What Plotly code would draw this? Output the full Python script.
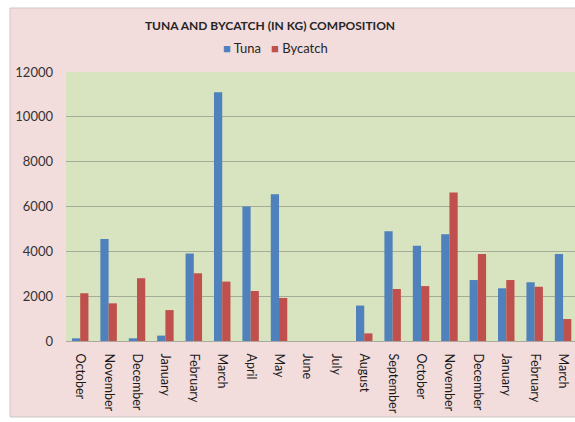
import plotly.graph_objects as go

# Monthly catch composition (kg)
months = ["October", "November", "December", "January", "February", "March",
          "April", "May", "June", "July", "August", "September", "October ",
          "November ", "December ", "January ", "February ", "March "]
tuna = [120, 4550, 120, 240, 3900, 11100, 6000, 6550, 0, 0, 1580, 4900,
        4250, 4760, 2720, 2350, 2620, 3880]
bycatch = [2130, 1680, 2800, 1380, 3020, 2650, 2230, 1920, 0, 0, 340, 2320,
           2450, 6620, 3880, 2720, 2420, 980]
y_ticks = [0, 2000, 4000, 6000, 8000, 10000, 12000]
y_tick_text = [str(v) for v in y_ticks]

TUNA_COLOR = "#4f81bd"
BYCATCH_COLOR = "#c0504d"

W, H = 575, 422
L, R, T, B = 66, 0, 72, 81
pw, ph = W - L - R, H - T - B

def px_to_paper_x(px):
    return (px - L) / pw

def px_to_paper_y(py):
    return (H - B - py) / ph

FONT = "Lato, 'Open Sans', sans-serif"

fig = go.Figure()
fig.add_trace(go.Bar(x=months, y=tuna, name="Tuna",
                     marker=dict(color=TUNA_COLOR, line=dict(width=0))))
fig.add_trace(go.Bar(x=months, y=bycatch, name="Bycatch",
                     marker=dict(color=BYCATCH_COLOR, line=dict(width=0))))

# pink chart-area panel, then the green plot area on top of it
fig.add_shape(type="rect", xref="paper", yref="paper", layer="below",
              x0=px_to_paper_x(10), x1=px_to_paper_x(590),
              y0=px_to_paper_y(417), y1=px_to_paper_y(8),
              fillcolor="#f2dcdc", line=dict(color="#cfc6c6", width=1))
fig.add_shape(type="rect", xref="paper", yref="paper", layer="below",
              x0=0, x1=1.05, y0=0, y1=1,
              fillcolor="#d8e4bf", line=dict(width=0))

# compact legend line under the title
fig.add_annotation(
    xref="paper", yref="paper",
    x=px_to_paper_x(275), y=px_to_paper_y(48),
    xanchor="center", yanchor="middle", showarrow=False,
    text=(f"<span style='color:{TUNA_COLOR}'>■</span> Tuna"
          "&nbsp;&nbsp;&nbsp;"
          f"<span style='color:{BYCATCH_COLOR}'>■</span> Bycatch"),
    font=dict(family=FONT, size=13, color="#262626"),
)

fig.update_layout(
    width=W, height=H,
    margin=dict(l=L, r=R, t=T, b=B, pad=0),
    paper_bgcolor="white",
    plot_bgcolor="rgba(0,0,0,0)",
    barmode="group",
    bargap=0.42,
    bargroupgap=0,
    showlegend=False,
    font=dict(family=FONT, color="#262626", size=13),
    title=dict(text="<b>TUNA AND BYCATCH (IN KG) COMPOSITION</b>",
               x=px_to_paper_x(270), xref="paper", xanchor="center",
               y=1 - 26 / H, yref="container", yanchor="middle",
               font=dict(family=FONT, size=12, color="#262626")),
    xaxis=dict(type="category", range=[-0.5, 17.42], tickangle=90,
               showgrid=False, showline=True, linecolor="#a9a9a0",
               linewidth=1, ticks="", ticklabelstandoff=9,
               tickfont=dict(family=FONT, size=12.5, color="#1a1a1a")),
    yaxis=dict(range=[0, 12000], tickvals=y_ticks, ticktext=y_tick_text,
               showgrid=True, gridcolor="#a4ab96", gridwidth=1,
               zeroline=False, showline=False, ticks="",
               ticklabelstandoff=12,
               tickfont=dict(family=FONT, size=13, color="#333333")),
)

fig.write_html("out.html")
